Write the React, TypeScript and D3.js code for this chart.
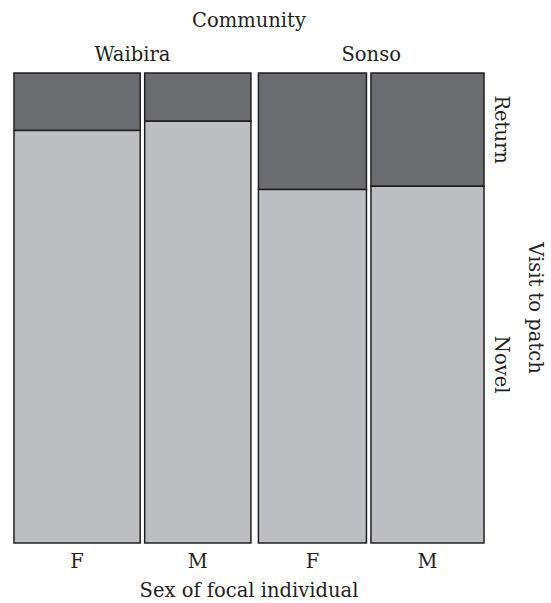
import React from "react";
import * as d3 from "d3";

const communities = ["Waibira", "Sonso"];
const sexes = ["F", "M"];
const visitTypes = ["Return", "Novel"];
// counts per (community, sex): [Return, Novel]
const waibiraReturn = [34, 24];
const waibiraNovel = [244, 210];
const sonsoReturn = [59, 60];
const sonsoNovel = [179, 189];

const W = 551;
const H = 603;
const FONT = "'DejaVu Serif', serif";
const FS = 19.5;
const DARK = "#6b6c70";
const LIGHT = "#bdbec1";
const STROKE = "#231f20";

export default function App() {
  const left = 14, right = 484, top = 73, bottom = 543;
  const gapSex = 4.5, gapComm = 7.5;
  const cells = [
    { comm: 0, sex: 0, ret: waibiraReturn[0], nov: waibiraNovel[0] },
    { comm: 0, sex: 1, ret: waibiraReturn[1], nov: waibiraNovel[1] },
    { comm: 1, sex: 0, ret: sonsoReturn[0], nov: sonsoNovel[0] },
    { comm: 1, sex: 1, ret: sonsoReturn[1], nov: sonsoNovel[1] },
  ];
  const total = d3.sum(cells, (c) => c.ret + c.nov);
  const avail = right - left - 2 * gapSex - gapComm;
  const wScale = d3.scaleLinear().domain([0, total]).range([0, avail]);
  const yScale = d3.scaleLinear().domain([0, 1]).range([top, bottom]);

  let x = left;
  const cols = cells.map((c, i) => {
    if (i > 0) x += cells[i - 1].comm !== c.comm ? gapComm : gapSex;
    const n = c.ret + c.nov;
    const w = wScale(n);
    const col = { ...c, x0: x, x1: x + w, pRet: c.ret / n };
    x += w;
    return col;
  });

  const last = cols[cols.length - 1];
  const retMid = (yScale(0) + yScale(last.pRet)) / 2;
  const novMid = (yScale(last.pRet) + yScale(1)) / 2;

  return (
    <svg width={W} height={H} style={{ position: "absolute", left: 0, top: 0 }} fontFamily={FONT} fontSize={FS} fill="#231f20">
      <rect width={W} height={H} fill="white" />
      {cols.map((c, i) => (
        <g key={i}>
          <rect x={c.x0} y={yScale(0)} width={c.x1 - c.x0} height={yScale(c.pRet) - yScale(0)} fill={DARK} stroke={STROKE} strokeWidth={1.5} />
          <rect x={c.x0} y={yScale(c.pRet)} width={c.x1 - c.x0} height={yScale(1) - yScale(c.pRet)} fill={LIGHT} stroke={STROKE} strokeWidth={1.5} />
          <text x={(c.x0 + c.x1) / 2} y={568} textAnchor="middle" fill="#231f20">{sexes[c.sex]}</text>
        </g>
      ))}
      {communities.map((name, ci) => {
        const cs = cols.filter((c) => c.comm === ci);
        const cx = (cs[0].x0 + cs[cs.length - 1].x1) / 2;
        return <text key={name} x={cx} y={61} textAnchor="middle" fill="#231f20">{name}</text>;
      })}
      <text x={(left + right) / 2} y={27} textAnchor="middle" fill="#231f20">Community</text>
      <text x={(left + right) / 2} y={597} textAnchor="middle" fill="#231f20">Sex of focal individual</text>
      <text transform={`translate(495,${retMid}) rotate(90)`} textAnchor="middle" fill="#231f20">{visitTypes[0]}</text>
      <text transform={`translate(495,${novMid}) rotate(90)`} textAnchor="middle" fill="#231f20">{visitTypes[1]}</text>
      <text transform={`translate(529,${(top + bottom) / 2}) rotate(90)`} textAnchor="middle" fill="#231f20">Visit to patch</text>
    </svg>
  );
}
